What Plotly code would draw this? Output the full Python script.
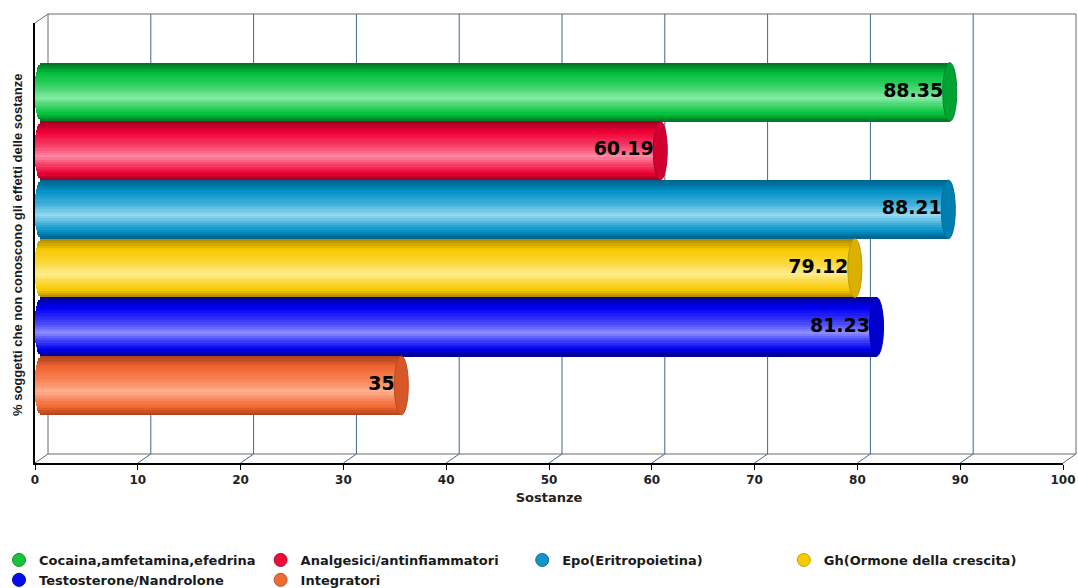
import math
import plotly.graph_objects as go

# ---------------- data ----------------
series = ["Cocaina,amfetamina,efedrina", "Analgesici/antinfiammatori",
          "Epo(Eritropoietina)", "Gh(Ormone della crescita)",
          "Testosterone/Nandrolone", "Integratori"]
values = [88.35, 60.19, 88.21, 79.12, 81.23, 35]
x_ticks = [0, 10, 20, 30, 40, 50, 60, 70, 80, 90, 100]
x_title = "Sostanze"
y_title = "% soggetti che non conoscono gli effetti delle sostanze"

# ---------------- styles ----------------
base_cols = ["#00bf3a", "#ee0035", "#0090c6", "#f7c800", "#0000f2", "#f0632e"]
dark_cols = ["#006e22", "#9a0024", "#005e88", "#a88400", "#00008a", "#a8401c"]
light_cols = ["#86eca2", "#ff8aa4", "#96daf2", "#ffec8c", "#8c8cff", "#ffb08e"]
legend_cols = ["#19c33f", "#ef0a3c", "#1194c8", "#f8cb00", "#0a0af0", "#ef6a35"]
legend_line = ["#0f8f2c", "#b00830", "#0b6f98", "#c89e00", "#0606b0", "#c0502a"]

W, H = 1078, 588
ML, MR, MT, MB = 35, 15, 23, 125
PW, PH = W - ML - MR, H - MT - MB
DEPTH_X, DEPTH_Y = 13, 9
px_per_unit = PW / (x_ticks[-1] - x_ticks[0])
d = DEPTH_X / 2 / px_per_unit          # bars sit mid-depth
cap_r_px = 7
r_u = cap_r_px / px_per_unit
slot_px = 58.7
first_center_px = 92
y_top = -(first_center_px - MT) / slot_px
y_bot = y_top + PH / slot_px
K = 26
FONT = "DejaVu Sans, Verdana, Arial, sans-serif"
LEGEND_TOP_PX = 545
LEGEND_LEFT_PX = -1


def hex2rgb(h):
    h = h.lstrip("#")
    return [int(h[i:i + 2], 16) for i in (0, 2, 4)]


def mixrgb(a, b, f):
    a, b = hex2rgb(a), hex2rgb(b)
    return [round(a[i] + (b[i] - a[i]) * f) for i in range(3)]


def mix(a, b, f):
    return "rgb(%d,%d,%d)" % tuple(mixrgb(a, b, f))


def shade(t, dark, base, light):
    # cylinder shading profile, top (t=0) to bottom (t=1)
    pts = [(0.0, dark, base, 0.0), (0.18, base, base, 0.0), (0.42, base, light, 0.45),
           (0.6, base, light, 1.0), (0.74, base, light, 0.45), (0.88, base, base, 0.0),
           (1.0, dark, base, 0.0)]
    for k in range(len(pts) - 1):
        if pts[k][0] <= t <= pts[k + 1][0]:
            a = mixrgb(pts[k][1], pts[k][2], pts[k][3])
            b = mixrgb(pts[k + 1][1], pts[k + 1][2], pts[k + 1][3])
            f = (t - pts[k][0]) / (pts[k + 1][0] - pts[k][0])
            c = [round(a[i] + (b[i] - a[i]) * f) for i in range(3)]
            return "rgb(%d,%d,%d)" % tuple(c)
    return base


fig = go.Figure()

# legend entries (circles)
for i, name in enumerate(series):
    fig.add_trace(go.Scatter(
        x=[None], y=[None], mode="markers", name=name,
        marker=dict(symbol="circle", size=13, color=legend_cols[i],
                    line=dict(color=legend_line[i], width=1)),
        hoverinfo="skip", showlegend=True))

# cylinder bars made of shaded strips
shapes = []
for i, (name, v) in enumerate(zip(series, values)):
    for j in range(K):
        t = (j + 0.5) / K
        col = shade(t, dark_cols[i], base_cols[i], light_cols[i])
        base_j = d - r_u * math.sqrt(max(0.0, 1 - (2 * t - 1) ** 2))
        fig.add_trace(go.Bar(
            y=[name], x=[v + d - base_j], base=[base_j], orientation="h",
            width=[1 / K + 0.006], offset=-0.5 + j / K,
            marker=dict(color=col, line=dict(width=0)),
            showlegend=False, hoverinfo="skip"))
    # end cap
    shapes.append(dict(type="circle", xref="x", yref="y", xsizemode="pixel",
                       xanchor=v + d, x0=-cap_r_px, x1=cap_r_px,
                       y0=i - 0.5, y1=i + 0.5,
                       fillcolor=mix(base_cols[i], dark_cols[i], 0.35),
                       line=dict(color=mix(base_cols[i], dark_cols[i], 0.7), width=1),
                       layer="above"))

# value labels
fig.add_trace(go.Scatter(
    x=values, y=series, mode="text", text=[f"{v:g}" for v in values],
    textposition="middle left",
    textfont=dict(family=FONT, size=19, color="#000000", weight="bold"),
    showlegend=False, hoverinfo="skip"))

# 3D frame: back wall & grid
DX, DY = DEPTH_X / PW, DEPTH_Y / PH
grid_col = "#3f6690"
frame_col = "#6a6a6a"
for k in x_ticks:
    if x_ticks[0] < k < x_ticks[-1]:
        shapes.append(dict(type="line", xref="x", yref="paper", xsizemode="pixel",
                           xanchor=k, x0=DEPTH_X, x1=DEPTH_X, y0=DY, y1=1 + DY,
                           line=dict(color=grid_col, width=1), layer="below"))
        shapes.append(dict(type="line", xref="x", yref="paper", xsizemode="pixel",
                           xanchor=k, x0=0, x1=DEPTH_X, y0=0, y1=DY,
                           line=dict(color=grid_col, width=1), layer="below"))
frame = [((DX, DY), (DX, 1 + DY)), ((DX, 1 + DY), (1 + DX, 1 + DY)),
         ((DX, DY), (1 + DX, DY)), ((1 + DX, DY), (1 + DX, 1 + DY)),
         ((0, 1), (DX, 1 + DY)), ((0, 0), (DX, DY)), ((1, 0), (1 + DX, DY))]
for (a, b) in frame:
    shapes.append(dict(type="line", xref="paper", yref="paper",
                       x0=a[0], y0=a[1], x1=b[0], y1=b[1],
                       line=dict(color=frame_col, width=1), layer="below"))

fig.update_layout(
    width=W, height=H, autosize=False,
    margin=dict(l=ML, r=MR, t=MT, b=MB, autoexpand=False),
    paper_bgcolor="white", plot_bgcolor="rgba(0,0,0,0)",
    barmode="overlay", bargap=0,
    shapes=shapes,
    xaxis=dict(range=[x_ticks[0], x_ticks[-1]], tickvals=x_ticks,
               ticktext=[str(k) for k in x_ticks], automargin=False,
               showgrid=False, zeroline=False,
               showline=True, linecolor="black", linewidth=2,
               ticks="outside", ticklen=5, tickwidth=1, tickcolor="black",
               tickfont=dict(family=FONT, size=12, color="#222222", weight="bold"),
               title=dict(text=x_title, standoff=6,
                          font=dict(family=FONT, size=13, color="#222222", weight="bold"))),
    yaxis=dict(type="category", categoryorder="array", categoryarray=series,
               range=[y_bot, y_top], showgrid=False, zeroline=False, automargin=False,
               showline=True, linecolor="black", linewidth=2,
               showticklabels=False, ticks=""),
    legend=dict(orientation="h", xref="paper", yref="paper",
                x=(LEGEND_LEFT_PX - ML) / PW, y=(H - MB - LEGEND_TOP_PX) / PH,
                xanchor="left", yanchor="top",
                font=dict(family=FONT, size=13, color="#1a1a1a", weight="bold"),
                itemwidth=30, tracegroupgap=0, bgcolor="rgba(0,0,0,0)"),
    annotations=[dict(text=y_title, xref="paper", yref="paper",
                      x=-18 / PW, y=0.5 - 2 / PH, textangle=-90,
                      xanchor="center", yanchor="middle", showarrow=False,
                      font=dict(family="Liberation Sans Narrow, Arial Narrow, Liberation Sans, Arial",
                                size=13, color="#1a1a1a", weight="bold"))],
)

fig.write_html("out.html")
